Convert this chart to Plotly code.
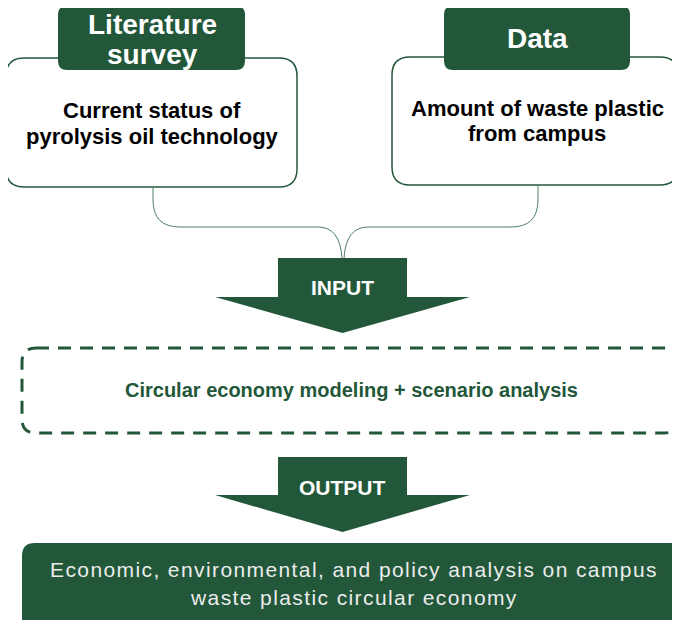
import plotly.graph_objects as go

# text content of the diagram
header_labels = [["Literature", "survey"], ["Data"]]
body_labels = [["Current status of", "pyrolysis oil technology"],
               ["Amount of waste plastic", "from campus"]]
arrow_labels = ["INPUT", "OUTPUT"]
model_label = "Circular economy modeling + scenario analysis"
result_labels = ["Economic, environmental, and policy analysis on campus",
                 "waste plastic circular economy"]

GREEN = "#23573a"
LINE = "#4f8064"
ARIAL = "Liberation Sans, Arial, sans-serif"

# the page puts the figure 8px in from the corner, so the axes start at 8
OFF = 8


def rounded(x0, y0, x1, y1, r):
    return (f"M{x0+r},{y0} L{x1-r},{y0} Q{x1},{y0} {x1},{y0+r} "
            f"L{x1},{y1-r} Q{x1},{y1} {x1-r},{y1} L{x0+r},{y1} "
            f"Q{x0},{y1} {x0},{y1-r} L{x0},{y0+r} Q{x0},{y0} {x0+r},{y0} Z")


def arrow(x0, x1, y0, ys, hx0, hx1, tip):
    xm = (hx0 + hx1) / 2
    return (f"M{x0},{y0} L{x1},{y0} L{x1},{ys} L{hx1},{ys} "
            f"L{xm},{tip} L{hx0},{ys} L{x0},{ys} Z")


fig = go.Figure()
shapes = []
ann = []

# white boxes
shapes.append(dict(type="path", path=rounded(6, 58, 297, 187, 18),
                   line=dict(color=GREEN, width=1.5), fillcolor="white"))
shapes.append(dict(type="path", path=rounded(392, 57, 678, 185, 18),
                   line=dict(color=GREEN, width=1.5), fillcolor="white"))

# header tabs
shapes.append(dict(type="path", path=rounded(58, 6, 245, 70, 9),
                   line=dict(width=0), fillcolor=GREEN))
shapes.append(dict(type="path", path=rounded(444, 6, 630, 70, 9),
                   line=dict(width=0), fillcolor=GREEN))

# connectors
shapes.append(dict(type="path",
                   path="M153,187 L153,200 Q153,227 180,227 L318,227 Q340,227 342,258",
                   line=dict(color=LINE, width=1)))
shapes.append(dict(type="path",
                   path="M538,185 L538,200 Q538,227 511,227 L368,227 Q346,227 344,258",
                   line=dict(color=LINE, width=1)))

# arrows
shapes.append(dict(type="path", path=arrow(278, 407, 258, 297, 215, 470, 333),
                   line=dict(width=0), fillcolor=GREEN))
shapes.append(dict(type="path", path=arrow(278, 407, 457, 495, 215, 470, 532),
                   line=dict(width=0), fillcolor=GREEN))

# dashed modelling box
shapes.append(dict(type="path", path=rounded(22, 348, 678, 433, 14),
                   line=dict(color=GREEN, width=3, dash="13px,9px")))

# result box
shapes.append(dict(type="path", path=rounded(22, 543, 700, 640, 13),
                   line=dict(width=0), fillcolor=GREEN))


def text(x, y, s, size, color, bold=False, spacing=None):
    if bold:
        s = f"<b>{s}</b>"
    if spacing:
        s = f'<span style="letter-spacing:{spacing}px">{s}</span>'
    ann.append(dict(x=x, y=y, text=s, showarrow=False,
                    xanchor="center", yanchor="middle",
                    font=dict(size=size, color=color, family=ARIAL)))


text(152, 24, header_labels[0][0], 28, "white", True)
text(152, 54, header_labels[0][1], 28, "white", True)
text(537, 38, header_labels[1][0], 28, "white", True)

text(152, 110, body_labels[0][0], 22, "black", True)
text(152, 136, body_labels[0][1], 22, "black", True)
text(537, 108, body_labels[1][0], 22, "black", True)
text(537, 133, body_labels[1][1], 22, "black", True)

text(342, 287, arrow_labels[0], 21, "white", True)
text(342, 487, arrow_labels[1], 21, "white", True)

text(351, 390, model_label, 20, GREEN, True)

text(354, 569, result_labels[0], 21, "#ececec", spacing=1.4)
text(354, 597, result_labels[1], 21, "#ececec", spacing=1.4)

fig.update_layout(
    width=680 - OFF, height=620 - OFF,
    margin=dict(l=0, r=0, t=0, b=0),
    paper_bgcolor="white", plot_bgcolor="white",
    shapes=shapes, annotations=ann,
    xaxis=dict(range=[OFF, 680], visible=False, fixedrange=True),
    yaxis=dict(range=[620, OFF], visible=False, fixedrange=True),
    showlegend=False,
)

fig.write_html("out.html")
